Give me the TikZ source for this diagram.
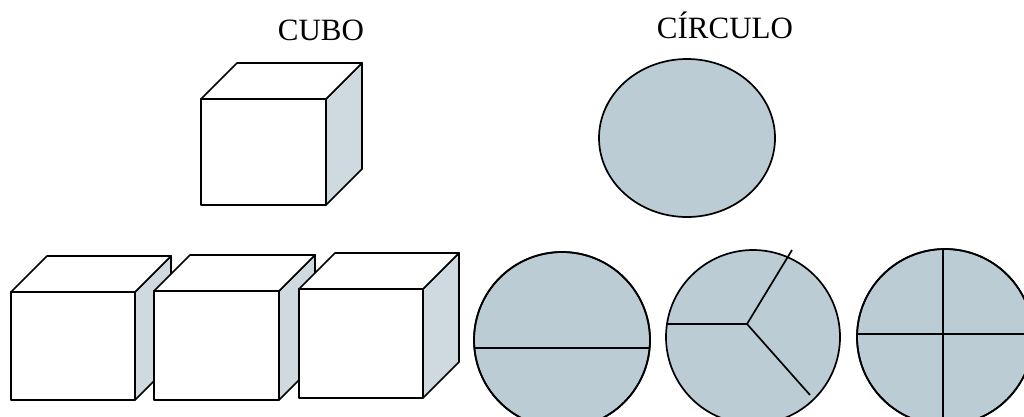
\documentclass[tikz,border=0pt]{standalone}
\usepackage{fontspec}
\setmainfont{Liberation Serif}
\definecolor{circfill}{RGB}{188,204,212}
\definecolor{sidefill}{RGB}{206,218,224}
\tikzset{
  outline/.style={draw=black, line width=1.7pt, line join=round},
  cubeface/.style={outline, fill=white},
  cubeside/.style={outline, fill=sidefill},
  disc/.style={outline, fill=circfill},
  cut/.style={draw=black, line width=1.7pt},
  title/.style={font=\fontsize{31}{31}\selectfont, anchor=base, inner sep=0pt}
}
\newcommand\drawcubo[4]{%
  \filldraw[cubeface] (#1,#2) rectangle ++(#3,#4);
  \filldraw[cubeside] (#1+#3,#2) -- ++(36,-36) -- ++(0,#4) -- ++(-36,36) -- cycle;
  \filldraw[cubeface] (#1,#2) -- ++(36,-36) -- ++(#3,0) -- ++(-36,36) -- cycle;}
\begin{document}
\begin{tikzpicture}[x=1pt,y=-1pt]
\clip (0,0) rectangle (1024,416);
\fill[white] (0,0) rectangle (1024,416);
% titles
\node[title] (cubo) at (321,40) {CUBO};
\node[title] (circulo) at (725,38) {CÍRCULO};
% cubes
\drawcubo{201}{99}{125}{106}
\drawcubo{11}{292}{124}{108}
\drawcubo{154}{291}{125}{109}
\drawcubo{299}{289}{124}{109}
% top circle
\filldraw[disc] (687,138) ellipse [x radius=88, y radius=79];
% circle 1 (halves)
\coordinate (c1) at (562,340);
\filldraw[disc] (c1) circle [radius=88];
\begin{scope}
  \clip (c1) circle [radius=88];
  \draw[cut] (460,348) -- (670,348);
\end{scope}
\draw[outline] (c1) circle [radius=88];
% circle 2 (thirds)
\coordinate (c2) at (753,337);
\coordinate (m2) at (747,324);
\coordinate (e2a) at (666,324);
\coordinate (e2b) at (792,250);
\coordinate (e2c) at (810,395);
\filldraw[disc] (c2) circle [radius=87];
\draw[cut] (e2a) -- (m2) -- (e2b);
\draw[cut] (m2) -- (e2c);
% circle 3 (quarters)
\coordinate (c3) at (945,337);
\filldraw[disc] (c3) circle [radius=88];
\begin{scope}
  \clip (c3) circle [radius=88];
  \draw[cut] (943,240) -- (943,430);
  \draw[cut] (850,334) -- (1040,334);
\end{scope}
\draw[outline] (c3) circle [radius=88];
\end{tikzpicture}
\end{document}
